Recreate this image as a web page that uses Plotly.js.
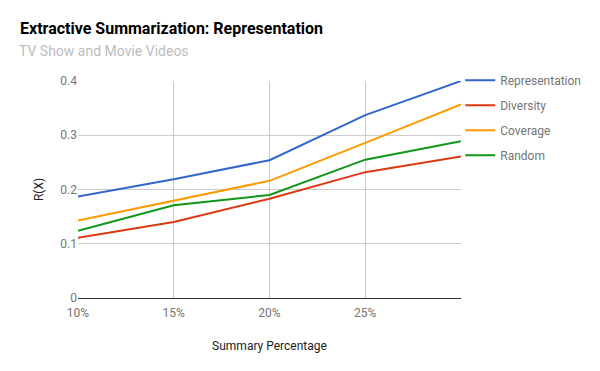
<!DOCTYPE html>
<html>
<head>
<meta charset="utf-8">
<script src="https://cdn.plot.ly/plotly-3.0.1.min.js"></script>
<style>
  html, body { margin: 0; padding: 0; background: #fff; }
  #chart { width: 600px; height: 371px; }
</style>
</head>
<body>
<div id="chart"></div>
<script>
// summary percentage (x) and its tick labels
const percents = [10, 15, 20, 25, 30];
const tickLabels = ['10%', '15%', '20%', '25%'];

// R(X) per method
const representation = [0.187, 0.219, 0.254, 0.337, 0.400];
const diversity = [0.111, 0.140, 0.183, 0.232, 0.261];
const coverage = [0.143, 0.179, 0.216, 0.286, 0.357];
const random = [0.124, 0.171, 0.190, 0.255, 0.289];

function line(name, y, color) {
    return {
        x: percents,
        y: y,
        name: name,
        legendgroup: name,
        type: 'scatter',
        mode: 'lines',
        line: { color: color, width: 2 },
        hoverinfo: 'skip'
    };
}

const data = [
    line('Representation', representation, '#3366cc'),
    line('Diversity', diversity, '#dc3912'),
    line('Coverage', coverage, '#ff9900'),
    line('Random', random, '#109618')
];

const layout = {
    width: 600,
    height: 371,
    margin: { l: 78, r: 139, t: 81, b: 73 },
    paper_bgcolor: '#fff',
    plot_bgcolor: '#fff',
    font: { family: 'Roboto, Arial, sans-serif', size: 12, color: '#757575' },
    title: {
        text: '<b>Extractive Summarization: Representation</b>',
        font: { size: 16, color: '#000' },
        xref: 'container', x: 20 / 600, xanchor: 'left',
        yref: 'container', y: 1 - 28 / 371, yanchor: 'middle'
    },
    annotations: [{
        text: 'TV Show and Movie Videos',
        font: { size: 14, color: '#bdbdbd' },
        xref: 'paper', yref: 'paper',
        x: (17 - 78) / 383, xanchor: 'left',
        y: (298 - 51) / 217, yanchor: 'middle',
        showarrow: false
    }],
    xaxis: {
        range: [10, 30],
        tickvals: percents.slice(0, 4),
        ticktext: tickLabels,
        showgrid: true,
        gridcolor: '#cccccc',
        zeroline: false,
        showline: true,
        linecolor: '#333',
        linewidth: 1,
        ticks: '',
        ticklabelstandoff: 4,
        tickfont: { size: 12, color: '#757575' },
        title: { text: 'Summary Percentage', font: { size: 12, color: '#222' }, standoff: 22 }
    },
    yaxis: {
        range: [0, 0.4],
        tickvals: [0, 0.1, 0.2, 0.3, 0.4],
        ticktext: ['0', '0.1', '0.2', '0.3', '0.4'],
        showgrid: true,
        gridcolor: '#cccccc',
        zeroline: false,
        ticks: '',
        tickfont: { size: 12, color: '#757575' },
        title: { text: 'R(X)', font: { size: 12, color: '#222' }, standoff: 14 }
    },
    showlegend: true,
    legend: {
        x: 0.998, xanchor: 'left',
        y: 1.07, yanchor: 'top',
        font: { size: 12, color: '#757575' },
        traceorder: 'grouped',
        tracegroupgap: 6,
        bgcolor: 'rgba(0,0,0,0)'
    }
};

Plotly.newPlot('chart', data, layout, { displayModeBar: false, staticPlot: true });
</script>
</body>
</html>
